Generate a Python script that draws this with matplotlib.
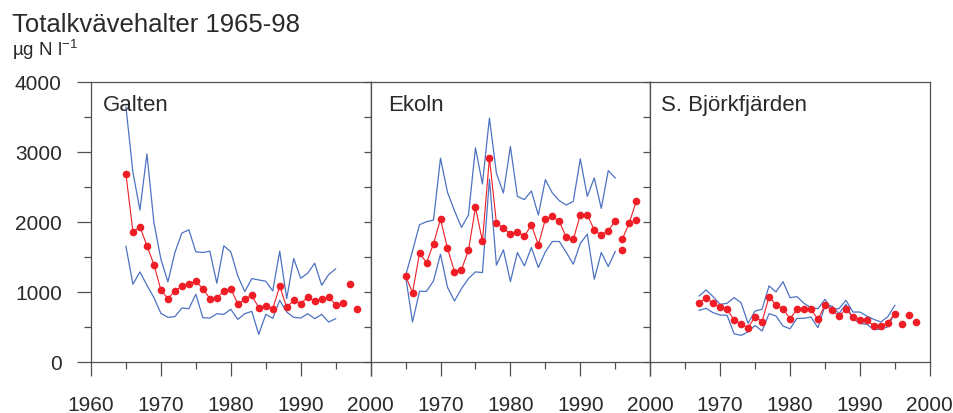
import numpy as np
import matplotlib
matplotlib.use("Agg")
import matplotlib.pyplot as plt

plt.rcParams['font.family'] = ['Liberation Sans', 'DejaVu Sans']
plt.rcParams['mathtext.fontset'] = 'custom'
plt.rcParams['mathtext.rm'] = 'Liberation Sans'

# Galten, 1965-1995 (connected), extra points 1996-98
galten_years = list(range(1965, 1996))
galten_mean = [2677, 1855, 1926, 1654, 1386, 1023, 899, 1009, 1076, 1109, 1147, 1042, 899, 903, 1013, 1042,
               822, 889, 946, 770, 798, 755, 1076, 774, 875, 827, 918, 865, 889, 918, 813]
galten_max = [3638, 2705, 2165, 2968, 1988, 1463, 1138, 1558, 1836, 1883, 1568, 1558, 1577, 1119, 1654, 1568,
              1224, 999, 1185, 1166, 1147, 1009, 1577, 899, 1472, 1190, 1262, 1405, 1090, 1243, 1324]
galten_min = [1644, 1104, 1281, 1090, 913, 688, 631, 641, 765, 755, 961, 626, 621, 683, 674, 746,
              602, 683, 717, 387, 674, 617, 875, 707, 631, 621, 683, 612, 674, 564, 612]
galten_extra_years = [1996, 1997, 1998]
galten_extra = [841, 1104, 746]

# Ekoln
ekoln_years = list(range(1965, 1996))
ekoln_mean = [1224, 985, 1549, 1415, 1683, 2036, 1620, 1286, 1315, 1587, 2204, 1721, 2911, 1979, 1907, 1821,
              1850, 1788, 1955, 1668, 2032, 2075, 2003, 1773, 1745, 2098, 2098, 1879, 1807, 1869, 2012]
ekoln_max = [1224, 1582, 1955, 1998, 2022, 2906, 2419, 2156, 1917, 2094, 3054, 2538, 3480, 2691, 2409, 3074,
             2361, 2314, 2438, 2094, 2600, 2409, 2299, 2237, 2290, 2897, 2361, 2624, 2189, 2729, 2624]
ekoln_min = [1224, 564, 1004, 1004, 1152, 1534, 1061, 865, 1042, 1185, 1281, 1271, 2610, 1377, 1597, 1142,
             1558, 1367, 1630, 1343, 1568, 1716, 1716, 1558, 1391, 1687, 1821, 1176, 1558, 1358, 1573]
ekoln_late_years = [1996, 1997, 1998]
ekoln_late = [1749, 1979, 2290]
ekoln_extra_years = [1996, 1998]
ekoln_extra = [1591, 2026]

# S. Björkfjärden
bjork_years = list(range(1967, 1996))
bjork_mean = [841, 908, 832, 779, 746, 593, 540, 483, 641, 569, 927, 808, 755, 612, 746, 746,
              746, 602, 808, 736, 650, 746, 641, 593, 593, 507, 507, 554, 684]
bjork_max = [937, 1023, 927, 817, 832, 913, 841, 545, 722, 746, 1080, 994, 1142, 913, 927, 832,
             770, 755, 889, 746, 755, 875, 707, 707, 650, 602, 564, 641, 803]
bjork_min = [731, 760, 698, 664, 660, 397, 373, 425, 516, 435, 684, 650, 507, 468, 617, 617,
             636, 483, 795, 793, 684, 817, 612, 545, 531, 459, 459, 497, 698]
bjork_extra_years = [1996, 1997, 1998]
bjork_extra = [531, 664, 569]

names = ["Galten", "Ekoln", "S. Björkfjärden"]
name_x = [0.043, 0.061, 0.039]

BLUE = "#4d72c2"
RED = "#ee1d26"
SPINE = "#505050"
TXT = "#2a2a2a"

fig = plt.figure(figsize=(9.54, 4.14), dpi=100)
W, H = 954, 414
left0, pw = 91 / W, 279.6 / W
bottom, ph = (H - 362.5) / H, 279.8 / H

axes = [fig.add_axes([left0 + i * pw, bottom, pw, ph]) for i in range(3)]

def draw_panel(ax, yrs, mn, mx, lo):
    ax.plot(yrs, mx, color=BLUE, lw=0.9)
    ax.plot(yrs, lo, color=BLUE, lw=0.9)
    ax.plot(yrs, mn, color=RED, lw=0.8, marker="o", ms=5.5, mec="none")

draw_panel(axes[0], galten_years, galten_mean, galten_max, galten_min)
axes[0].plot(galten_extra_years, galten_extra, "o", color=RED, ms=5.5, mec="none")

draw_panel(axes[1], ekoln_years, ekoln_mean, ekoln_max, ekoln_min)
axes[1].plot(ekoln_late_years, ekoln_late, color=RED, lw=0.8, marker="o", ms=5.5, mec="none")
axes[1].plot(ekoln_extra_years, ekoln_extra, "o", color=RED, ms=5.5, mec="none")

draw_panel(axes[2], bjork_years, bjork_mean, bjork_max, bjork_min)
axes[2].plot(bjork_extra_years, bjork_extra, "o", color=RED, ms=5.5, mec="none")

for i, ax in enumerate(axes):
    ax.set_xlim(1960, 2000)
    ax.set_ylim(0, 4000)
    for s in ax.spines.values():
        s.set_color(SPINE)
        s.set_linewidth(0.9)
    ax.set_xticks([1960, 1970, 1980, 1990, 2000])
    ax.set_xticks([1965, 1975, 1985, 1995], minor=True)
    if i == 0:
        ax.set_xticklabels(["1960", "1970", "1980", "1990", "2000"])
    else:
        ax.set_xticklabels(["", "1970", "1980", "1990", "2000"])
    ax.tick_params(axis="x", which="major", direction="out", length=10, width=0.9,
                   color=SPINE, pad=14, labelsize=15, labelcolor=TXT)
    ax.tick_params(axis="x", which="minor", direction="out", length=5, width=0.9, color=SPINE)
    if i == 0:
        ax.set_yticks([0, 1000, 2000, 3000, 4000])
        ax.set_yticks([500, 1500, 2500, 3500], minor=True)
        ax.tick_params(axis="y", which="major", direction="out", length=10, width=0.9,
                       color=SPINE, pad=11, labelsize=15, labelcolor=TXT)
        ax.tick_params(axis="y", which="minor", direction="out", length=5, width=0.9, color=SPINE)
    else:
        ax.tick_params(axis="y", which="both", left=False, labelleft=False)
    if i < 2:
        sec = ax.secondary_yaxis("right")
        sec.set_yticks(np.arange(0, 4001, 500))
        sec.tick_params(direction="in", length=5, width=0.9, color=SPINE, labelright=False)
        sec.spines["right"].set_color(SPINE)
        sec.spines["right"].set_linewidth(0.9)
    ax.text(name_x[i], 0.898, names[i], transform=ax.transAxes, fontsize=16,
            color=TXT, va="baseline", ha="left")

fig.text(12 / W, 1 - 32 / H, "Totalkvävehalter 1965-98", fontsize=18.5, color=TXT, va="baseline")
fig.text(12 / W, 1 - 56 / H, r"µg N l$^{\mathrm{-1}}$", fontsize=13.5, color=TXT, va="baseline")

fig.savefig("out.png", dpi=100)
